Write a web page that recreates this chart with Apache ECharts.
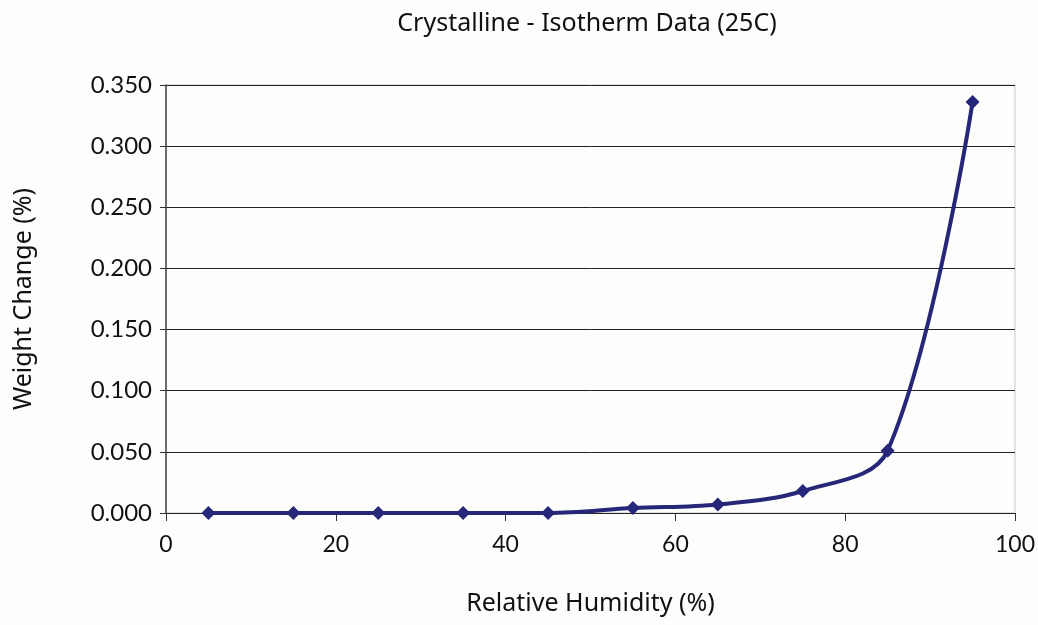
<!DOCTYPE html>
<html><head><meta charset="utf-8">
<script src="https://cdn.jsdelivr.net/npm/echarts@6/dist/echarts.min.js"></script>
<style>html,body{margin:0;padding:0;background:#fdfdfb}#c{width:1038px;height:625px}</style>
</head><body><div id="c"></div>
<script>
const humidity = [5, 15, 25, 35, 45, 55, 65, 75, 85, 95];
const weightChange = [0.000, 0.000, 0.000, 0.000, 0.000, 0.004, 0.007, 0.018, 0.051, 0.336];
const title = 'Crystalline - Isotherm Data (25C)';
const xName = 'Relative Humidity (%)';
const yName = 'Weight Change (%)';

const chart = echarts.init(document.getElementById('c'));
chart.setOption({
  backgroundColor: '#fdfdfb',
  animation: false,
  title: {
    text: title, left: 582, top: 6, textAlign: 'center',
    textStyle: {fontFamily: 'Noto Sans', fontSize: 25, fontWeight: 'normal', color: '#111'}
  },
  grid: {left: 166, right: 21, top: 85, bottom: 112, show: true, borderColor: '#c8c8c8', borderWidth: 1},
  xAxis: {
    type: 'value', min: 0, max: 100, interval: 20,
    name: xName, nameLocation: 'middle', nameGap: 78,
    nameTextStyle: {fontFamily: 'Noto Sans', fontSize: 25, color: '#111'},
    axisLine: {show: false},
    axisTick: {show: true, length: 8, lineStyle: {color: '#333'}},
    axisLabel: {fontFamily: 'Lato', fontSize: 23, color: '#111', margin: 20},
    splitLine: {show: false}
  },
  yAxis: {
    type: 'value', min: 0, max: 0.35, interval: 0.05,
    name: yName, nameLocation: 'middle', nameGap: 130, nameRotate: 90,
    nameTextStyle: {fontFamily: 'Noto Sans', fontSize: 25, color: '#111'},
    axisLine: {show: true, lineStyle: {color: '#444', width: 1.5}},
    axisTick: {show: true, length: 6, lineStyle: {color: '#333'}},
    axisLabel: {fontFamily: 'Lato', fontSize: 24, color: '#111', margin: 14,
      formatter: v => v.toFixed(3)},
    splitLine: {show: true, lineStyle: {color: '#222', width: 1}}
  },
  series: [{
    type: 'line',
    data: humidity.map((h, i) => [h, weightChange[i]]),
    smooth: 0.35,
    symbol: 'diamond', symbolSize: 14,
    lineStyle: {color: '#27277a', width: 4},
    itemStyle: {color: '#27277a'}
  }]
});
</script></body></html>
